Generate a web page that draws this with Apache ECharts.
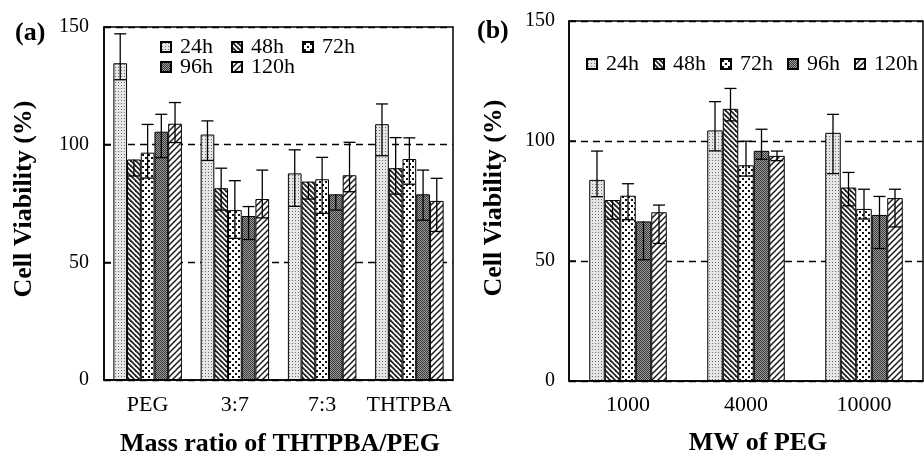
<!DOCTYPE html>
<html>
<head>
<meta charset="utf-8">
<script src="https://cdn.jsdelivr.net/npm/echarts@6/dist/echarts.min.js"></script>
<style>html,body{margin:0;padding:0;background:#fff}#c{width:924px;height:457px}</style>
</head>
<body>
<div id="c"></div>
<script>
// ---------- data ----------
const seriesNames = ['24h', '48h', '72h', '96h', '120h'];
const yTicks = [0, 50, 100, 150];

// panel (a)
const catsA = ['PEG', '3:7', '7:3', 'THTPBA'];
const a24 = [134.6, 104.3, 87.8, 108.7];
const a48 = [93.7, 81.5, 84.3, 90.0];
const a72 = [96.6, 72.2, 85.3, 93.9];
const a96 = [105.5, 69.7, 78.9, 78.9];
const a120 = [108.9, 76.9, 87.0, 76.1];
const a24Up = [12.5, 5.8, 10, 8.6];
const a48Up = [0, 8.5, 0, 13];
const a72Up = [12, 12.5, 9.3, 9];
const a96Up = [7.4, 4, 0, 10.3];
const a120Up = [9, 12.3, 14, 9.6];
const a24Dn = [7, 11, 14, 13.4];
const a48Dn = [7, 9.3, 7.4, 11];
const a72Dn = [10.8, 12, 14.5, 10.7];
const a96Dn = [11, 10, 6.7, 11];
const a120Dn = [8, 8, 7, 13];

// panel (b)
const catsB = ['1000', '4000', '10000'];
const b24 = [83.8, 104.4, 103.4];
const b48 = [75.4, 113.4, 80.6];
const b72 = [77.2, 89.9, 71.7];
const b96 = [66.5, 95.9, 69.2];
const b120 = [70.3, 93.8, 76.2];
const b24Up = [12, 12, 7.7];
const b48Up = [0, 8.5, 6.3];
const b72Up = [5, 10, 8.2];
const b96Up = [0, 9, 7.7];
const b120Up = [3, 2, 3.7];
const b24Dn = [7, 8.5, 17];
const b48Dn = [8, 5, 7.6];
const b72Dn = [10, 4.5, 4.2];
const b96Dn = [16, 3.5, 14];
const b120Dn = [13, 2, 12];

// ---------- patterns ----------
function pat(w, h, draw) {
  const c = document.createElement('canvas');
  c.width = w; c.height = h;
  const ctx = c.getContext('2d');
  ctx.fillStyle = '#fff'; ctx.fillRect(0, 0, w, h);
  draw(ctx);
  return { image: c, repeat: 'repeat' };
}
const patterns = [
  pat(3, 3, ctx => { ctx.fillStyle = '#e6e6e6'; ctx.fillRect(0,0,3,3); ctx.fillStyle = '#6f6f6f'; ctx.fillRect(1, 1, 1, 1); }),
  pat(5, 5, ctx => { ctx.strokeStyle = '#222'; ctx.lineWidth = 1.8; for (let k = -2; k <= 2; k++) { ctx.beginPath(); ctx.moveTo(k*5-1, -1); ctx.lineTo(k*5+6, 6); ctx.stroke(); } }),
  pat(6, 6, ctx => { ctx.fillStyle = '#111'; ctx.fillRect(1, 1, 2, 2); ctx.fillRect(4, 4, 2, 2); }),
  pat(2, 2, ctx => { ctx.fillStyle = '#3a3a3a'; ctx.fillRect(0,0,1,1); ctx.fillRect(1,1,1,1); ctx.fillStyle = '#9a9a9a'; ctx.fillRect(1,0,1,1); ctx.fillRect(0,1,1,1); }),
  pat(6, 6, ctx => { ctx.strokeStyle = '#1a1a1a'; ctx.lineWidth = 1.5; for (let k = -2; k <= 2; k++) { ctx.beginPath(); ctx.moveTo(k*6-1, 7); ctx.lineTo(k*6+7, -1); ctx.stroke(); } })
];

const FONT = 'Liberation Serif';
const valsA = [a24, a48, a72, a96, a120];
const upA = [a24Up, a48Up, a72Up, a96Up, a120Up];
const dnA = [a24Dn, a48Dn, a72Dn, a96Dn, a120Dn];
const valsB = [b24, b48, b72, b96, b120];
const upB = [b24Up, b48Up, b72Up, b96Up, b120Up];
const dnB = [b24Dn, b48Dn, b72Dn, b96Dn, b120Dn];
const BW_A = 13.7, BW_B = 15.5;

function barSeries(vals, axisIdx, bw) {
  return vals.map((v, i) => ({
    name: seriesNames[i], type: 'bar', xAxisIndex: axisIdx, yAxisIndex: axisIdx,
    data: v, barWidth: bw, barGap: '0%',
    itemStyle: { color: patterns[i], borderColor: '#000', borderWidth: 1 },
    z: 2, animation: false
  }));
}
function errSeries(vals, ups, dns, axisIdx, bw) {
  const data = [];
  vals.forEach((arr, s) => arr.forEach((v, c) => data.push([c, s, v, ups[s][c], dns[s][c]])));
  return {
    type: 'custom', xAxisIndex: axisIdx, yAxisIndex: axisIdx, z: 5, animation: false,
    encode: { x: 0, y: 2 },
    data: data,
    renderItem: function (params, api) {
      const c = api.value(0), s = api.value(1), v = api.value(2), up = api.value(3), dn = api.value(4);
      const x = api.coord([c, v])[0] + (s - 2) * bw;
      const yT = api.coord([c, v + up])[1];
      const yB = api.coord([c, v - dn])[1];
      const cap = 6;
      const st = { stroke: '#000', lineWidth: 1.3 };
      const ch = [
        { type: 'line', shape: { x1: x, y1: yT, x2: x, y2: yB }, style: st },
        { type: 'line', shape: { x1: x - cap, y1: yB, x2: x + cap, y2: yB }, style: st }
      ];
      if (up > 0) ch.push({ type: 'line', shape: { x1: x - cap, y1: yT, x2: x + cap, y2: yT }, style: st });
      return { type: 'group', children: ch };
    }
  };
}

const gridBase = { show: true, borderColor: '#000', borderWidth: 1.5, backgroundColor: 'transparent' };
function xAx(cats, idx, margin) {
  return {
    type: 'category', gridIndex: idx, data: cats,
    axisLine: { lineStyle: { color: '#000', width: 1.5 } },
    axisTick: { inside: true, length: 6, lineStyle: { color: '#000', width: 1.5 } },
    axisLabel: { color: '#000', fontFamily: FONT, fontSize: 22, margin: margin, interval: 0 }
  };
}
function yAx(idx, margin) {
  return {
    type: 'value', gridIndex: idx, min: yTicks[0], max: yTicks[yTicks.length - 1], interval: 50,
    axisLine: { show: true, lineStyle: { color: '#000', width: 1.5 } },
    axisTick: { show: true, inside: true, length: 7, lineStyle: { color: '#000', width: 1.5 } },
    axisLabel: { color: '#000', fontFamily: FONT, fontSize: 20, margin: margin },
    splitLine: { show: true, lineStyle: { color: '#000', type: [7, 5], width: 1.3 } }
  };
}
const legendText = { color: '#000', fontFamily: FONT, fontSize: 22, padding: [0, 0, 0, 4] };
const legendBase = { orient: 'horizontal', padding: 0, itemWidth: 10, itemHeight: 10, icon: 'rect', selectedMode: false, textStyle: legendText };

const option = {
  animation: false,
  backgroundColor: '#fff',
  grid: [
    Object.assign({ left: 104, top: 27, width: 349, height: 353 }, gridBase),
    Object.assign({ left: 569, top: 21, width: 354, height: 360 }, gridBase)
  ],
  xAxis: [xAx(catsA, 0, 14), xAx(catsB, 1, 13)],
  yAxis: [yAx(0, 15), yAx(1, 14)],
  legend: [
    Object.assign({ left: 160, top: 36, itemGap: 18, data: seriesNames.slice(0, 3) }, legendBase),
    Object.assign({ left: 160, top: 56, itemGap: 18, data: seriesNames.slice(3) }, legendBase),
    Object.assign({ left: 586, top: 53, itemGap: 14, data: seriesNames }, legendBase)
  ],
  graphic: [
    { type: 'text', x: 15, y: 33, style: { text: '(a)', font: 'bold 26px "Liberation Serif"', fill: '#000', textVerticalAlign: 'middle' } },
    { type: 'text', x: 477, y: 31, style: { text: '(b)', font: 'bold 26px "Liberation Serif"', fill: '#000', textVerticalAlign: 'middle' } },
    { type: 'text', x: 24, y: 199, rotation: Math.PI / 2, style: { text: 'Cell Viability (%)', font: 'bold 26px "Liberation Serif"', fill: '#000', textAlign: 'center', textVerticalAlign: 'middle' } },
    { type: 'text', x: 494, y: 198, rotation: Math.PI / 2, style: { text: 'Cell Viability (%)', font: 'bold 26px "Liberation Serif"', fill: '#000', textAlign: 'center', textVerticalAlign: 'middle' } },
    { type: 'text', x: 280, y: 444, style: { text: 'Mass ratio of THTPBA/PEG', font: 'bold 26px "Liberation Serif"', fill: '#000', textAlign: 'center', textVerticalAlign: 'middle' } },
    { type: 'text', x: 758, y: 443, style: { text: 'MW of PEG', font: 'bold 26px "Liberation Serif"', fill: '#000', textAlign: 'center', textVerticalAlign: 'middle' } }
  ],
  series: [].concat(
    barSeries(valsA, 0, BW_A),
    barSeries(valsB, 1, BW_B),
    [errSeries(valsA, upA, dnA, 0, BW_A), errSeries(valsB, upB, dnB, 1, BW_B)]
  )
};
const chart = echarts.init(document.getElementById('c'), null, { renderer: 'canvas' });
chart.setOption(option);
</script>
</body>
</html>
